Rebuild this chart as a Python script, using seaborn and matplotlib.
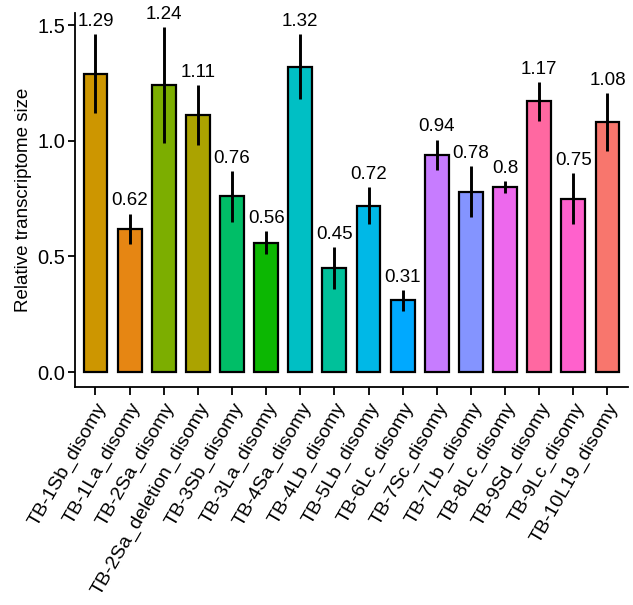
import numpy as np
import pandas as pd
import seaborn as sns
import matplotlib
matplotlib.use("Agg")
import matplotlib.pyplot as plt

# data
lines = ["TB-1Sb_disomy", "TB-1La_disomy", "TB-2Sa_disomy", "TB-2Sa_deletion_disomy",
         "TB-3Sb_disomy", "TB-3La_disomy", "TB-4Sa_disomy", "TB-4Lb_disomy",
         "TB-5Lb_disomy", "TB-6Lc_disomy", "TB-7Sc_disomy", "TB-7Lb_disomy",
         "TB-8Lc_disomy", "TB-9Sd_disomy", "TB-9Lc_disomy", "TB-10L19_disomy"]
means = [1.29, 0.62, 1.24, 1.11, 0.76, 0.56, 1.32, 0.45,
         0.72, 0.31, 0.94, 0.78, 0.8, 1.17, 0.75, 1.08]
errs = [0.17, 0.065, 0.25, 0.13, 0.11, 0.05, 0.14, 0.09,
        0.08, 0.045, 0.065, 0.11, 0.025, 0.085, 0.11, 0.125]
value_labels = ["1.29", "0.62", "1.24", "1.11", "0.76", "0.56", "1.32", "0.45",
                "0.72", "0.31", "0.94", "0.78", "0.8", "1.17", "0.75", "1.08"]


def hue_pal(n, c=100, l=65):
    # ggplot2 default hue palette (hcl -> sRGB)
    hs = np.linspace(15, 375, n + 1)[:-1]
    xn, yn, zn = 95.047, 100.0, 108.883
    un = 4 * xn / (xn + 15 * yn + 3 * zn)
    vn = 9 * yn / (xn + 15 * yn + 3 * zn)
    Y = yn * ((l + 16) / 116) ** 3
    out = []
    for h in hs:
        u = c * np.cos(np.radians(h))
        v = c * np.sin(np.radians(h))
        up = u / (13 * l) + un
        vp = v / (13 * l) + vn
        X = Y * 9 * up / (4 * vp)
        Z = Y * (12 - 3 * up - 20 * vp) / (4 * vp)
        M = np.array([[3.2406, -1.5372, -0.4986],
                      [-0.9689, 1.8758, 0.0415],
                      [0.0557, -0.2040, 1.0570]])
        rgb = M @ (np.array([X, Y, Z]) / 100)
        rgb = np.where(rgb <= 0.0031308, 12.92 * rgb, 1.055 * np.clip(rgb, 0, None) ** (1 / 2.4) - 0.055)
        out.append(tuple(np.clip(rgb, 0, 1)))
    return out


# ggplot assigns colours in alphabetical order of the levels
pal = dict(zip(sorted(lines), hue_pal(len(lines))))

df = pd.DataFrame({"line": lines, "size": means})

sns.set_style("ticks")
plt.rcParams["font.family"] = ["Liberation Sans", "DejaVu Sans"]

fig = plt.figure(figsize=(6.33, 6.05), dpi=100)
ax = fig.add_axes([0.1185, 0.36, 0.8735, 0.6185])

sns.barplot(data=df, x="line", y="size", hue="line", palette=pal, order=lines,
            hue_order=lines, dodge=False, legend=False, errorbar=None, width=0.7,
            edgecolor="black", linewidth=1.6, saturation=1, ax=ax)
ax.errorbar(np.arange(len(lines)), means, yerr=errs, fmt="none",
            ecolor="black", elinewidth=2.1, capsize=0)

for i, (m, e, t) in enumerate(zip(means, errs, value_labels)):
    ax.annotate(t, (i, m + e), xytext=(0, 3), textcoords="offset points",
                ha="center", va="bottom", fontsize=13.5, color="black")

ax.set_xlim(-0.6, 15.6)
ax.set_ylim(-0.065, 1.552)
ax.set_yticks([0, 0.5, 1.0, 1.5])
ax.set_yticklabels(["0.0", "0.5", "1.0", "1.5"])
ax.set_xlabel("")
ax.set_ylabel("Relative transcriptome size", fontsize=13.5, color="black", labelpad=4)

ax.tick_params(axis="y", labelsize=14.5, colors="black", length=5, width=1.3, pad=2)
ax.tick_params(axis="x", labelsize=14, colors="black", length=6, width=1.3, pad=3)
plt.setp(ax.get_xticklabels(), rotation=60, ha="right", rotation_mode="anchor")

sns.despine(ax=ax)
for s in ["left", "bottom"]:
    ax.spines[s].set_linewidth(1.3)
    ax.spines[s].set_color("black")

fig.savefig("out.png", dpi=100, facecolor="white")
